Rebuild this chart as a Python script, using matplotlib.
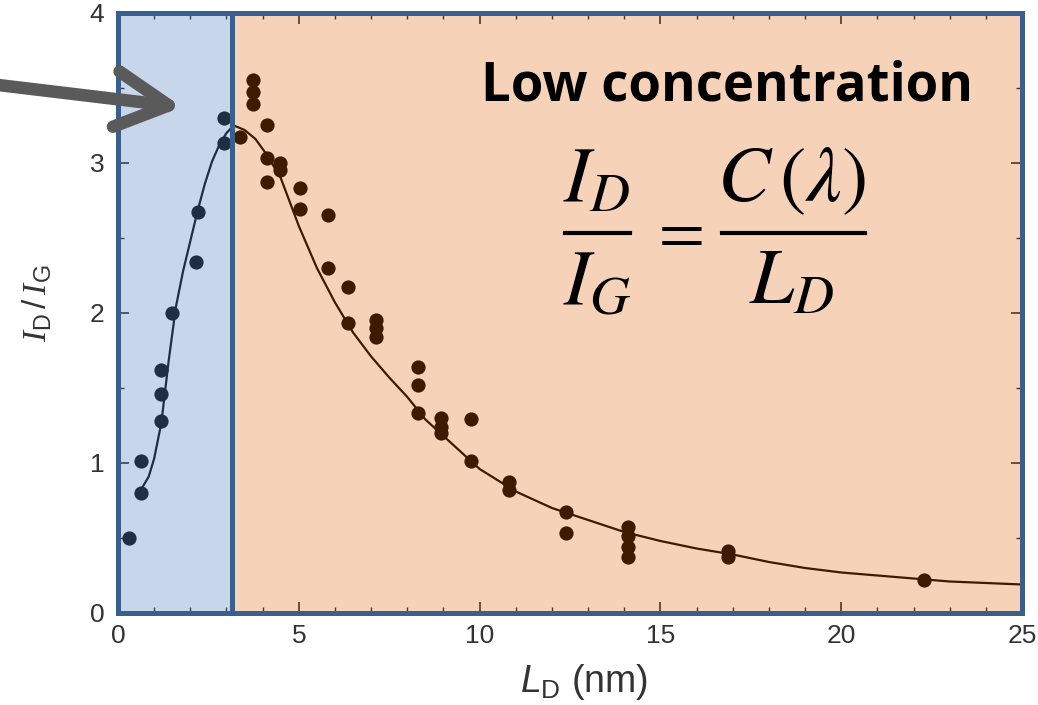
import matplotlib
matplotlib.use('Agg')
import matplotlib.pyplot as plt
from matplotlib.lines import Line2D
from matplotlib.ticker import MultipleLocator

ld_points = [0.30, 0.63, 0.63, 1.19, 1.19, 1.19, 1.48, 2.17, 2.21, 2.93, 2.93,
             3.37, 3.73, 3.73, 3.73, 4.11, 4.11, 4.11, 4.48, 4.48, 5.03, 5.03,
             5.80, 5.80, 6.35, 6.35, 7.13, 7.13, 7.13, 8.29, 8.29, 8.29,
             8.92, 8.92, 8.92, 9.75, 9.75, 10.80, 10.80, 12.38, 12.38,
             14.09, 14.09, 14.09, 14.09, 16.87, 16.87, 22.30]
ratio_points = [0.50, 1.01, 0.80, 1.62, 1.46, 1.28, 2.00, 2.34, 2.67, 3.30, 3.13,
                3.17, 3.55, 3.47, 3.39, 3.25, 3.03, 2.87, 3.00, 2.95, 2.83, 2.69,
                2.65, 2.30, 2.17, 1.93, 1.95, 1.90, 1.84, 1.64, 1.52, 1.33,
                1.30, 1.24, 1.20, 1.29, 1.01, 0.87, 0.82, 0.67, 0.53,
                0.57, 0.51, 0.44, 0.37, 0.41, 0.37, 0.22]

# fitted curve, read at a few positions
fit_x = [0.68, 0.85, 1.0, 1.2, 1.4, 1.6, 1.8, 2.0, 2.2, 2.4, 2.6, 2.8, 3.0,
         3.2, 3.5, 3.8, 4.1, 4.5, 5.0, 5.5, 6.0, 6.5, 7.0, 7.5, 8.0, 8.5,
         9.0, 10, 11, 12, 13, 14, 15, 16, 17, 18, 19, 20, 21, 22, 23, 24, 25]
fit_y = [0.84, 0.91, 1.03, 1.27, 1.68, 2.04, 2.28, 2.48, 2.68, 2.86, 3.01,
         3.12, 3.20, 3.25, 3.22, 3.16, 3.06, 2.90, 2.58, 2.30, 2.07, 1.87,
         1.71, 1.57, 1.44, 1.29, 1.18, 0.96, 0.81, 0.70, 0.62, 0.54, 0.48,
         0.43, 0.39, 0.34, 0.30, 0.27, 0.25, 0.23, 0.21, 0.20, 0.19]

split_x = 3.15
spine_blue = '#3a5f8f'

plt.rcParams['font.family'] = ['Liberation Sans', 'DejaVu Sans']
plt.rcParams['mathtext.rm'] = 'Liberation Sans'
plt.rcParams['mathtext.it'] = 'Liberation Sans:italic'
plt.rcParams['mathtext.cal'] = 'Liberation Serif:italic'

W, H = 1038, 705
fig = plt.figure(figsize=(W / 100, H / 100), dpi=100)
ax = fig.add_axes([0.1137, 0.1305, 0.8709, 0.8511])
ax.set_facecolor('white')

ax.scatter(ld_points, ratio_points, s=105, color='black', zorder=2, linewidths=0)
ax.plot(fit_x, fit_y, color='black', lw=1.6, zorder=2)

# coloured overlays, drawn over the data like the slide boxes
ax.axvspan(0, split_x, color=(93/255, 137/255, 196/255), alpha=0.34, zorder=3, lw=0)
ax.axvspan(split_x, 25, color=(226/255, 98/255, 0), alpha=0.28, zorder=3, lw=0)
ax.axvline(split_x, color=spine_blue, lw=3.6, zorder=5)

ax.set_xlim(0, 25)
ax.set_ylim(0, 4)
ax.xaxis.set_major_locator(MultipleLocator(5))
ax.xaxis.set_minor_locator(MultipleLocator(1))
ax.yaxis.set_major_locator(MultipleLocator(1))
ax.yaxis.set_minor_locator(MultipleLocator(0.5))
ax.tick_params(which='both', direction='in', top=True, right=True,
               color='#222222', labelcolor='#333333', labelsize=19)
ax.tick_params(which='major', length=8, width=1.2)
ax.tick_params(which='minor', length=4, width=1.0)
ax.tick_params(axis='x', pad=8)
ax.tick_params(axis='y', pad=10)

for s in ax.spines.values():
    s.set_color(spine_blue)
    s.set_linewidth(3.6)
    s.set_zorder(5)

fig.text(0.036, 0.570, r'$\mathcal{I}_{\rm D}\,/\,\mathcal{I}_{\rm G}$', rotation=90,
         fontsize=24, color='#333333', ha='center', va='center',
         math_fontfamily='custom')
fig.text(0.563, 0.018, r'$L_{\rm D}$ (nm)', fontsize=27, color='#333333',
         ha='center', va='baseline', math_fontfamily='custom')

fig.text(0.700, 0.878, 'Low concentration', fontsize=38, fontweight='bold',
         family=['Open Sans', 'DejaVu Sans'], ha='center', va='center', color='black')


# equation, laid out as two fractions (pixel positions from the top-left)
def fx(px):
    return px / W


def fy(py):
    return 1 - py / H


eq = dict(fontsize=57, color='black', math_fontfamily='stix', ha='center')
fig.text(fx(597), fy(201), r'$I_D$', va='baseline', **eq)
fig.text(fx(597), fy(304), r'$I_G$', va='baseline', **eq)
fig.text(fx(676), fy(234), r'$=$', va='center', fontsize=48, color='black',
         math_fontfamily='stix', ha='center')
fig.text(fx(792), fy(201), r'$C\,(\lambda)$', va='baseline', **eq)
fig.text(fx(792), fy(304), r'$L_D$', va='baseline', **eq)
for x0, x1 in [(565, 630), (722, 865)]:
    fig.add_artist(Line2D([fx(x0), fx(x1)], [fy(233), fy(233)], color='black',
                          lw=3.0, transform=fig.transFigure))

# grey pointer arrow coming from the left edge
ax.annotate('', xy=(182, 598), xycoords='figure pixels',
            xytext=(-10, 621), textcoords='figure pixels',
            arrowprops=dict(arrowstyle='->, head_length=1.9, head_width=1.0',
                            color='#5a5a5a', lw=9, mutation_scale=20,
                            shrinkA=0, shrinkB=0,
                            capstyle='round', joinstyle='round'),
            annotation_clip=False, zorder=6)

plt.savefig('out.png', dpi=100)
plt.close()
